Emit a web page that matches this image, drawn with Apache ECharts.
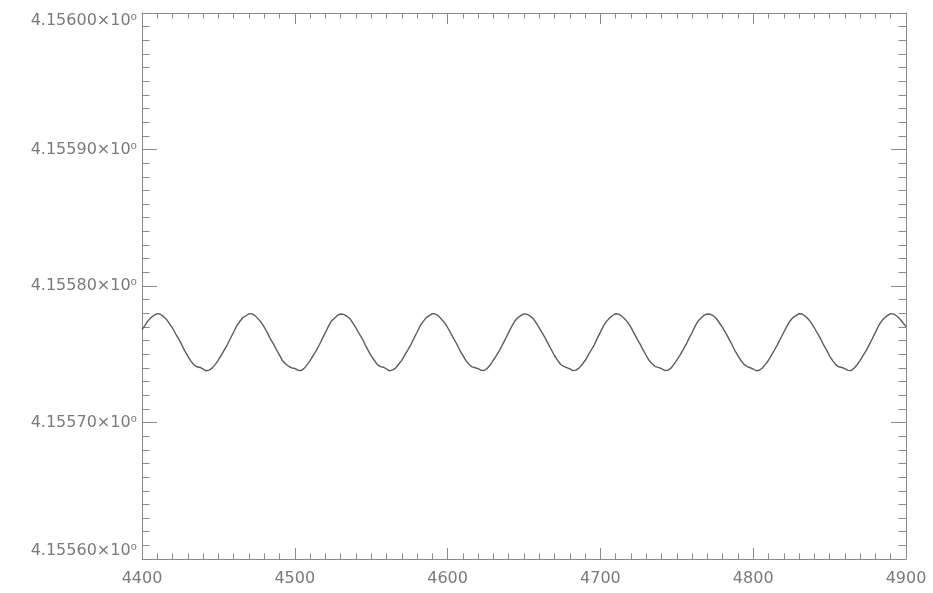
<!DOCTYPE html>
<html>
<head>
<meta charset="utf-8">
<style>
  html, body { margin: 0; padding: 0; background: #ffffff; }
  #chart { width: 933px; height: 593px; }
</style>
<script src="https://cdn.jsdelivr.net/npm/echarts@6/dist/echarts.min.js"></script>
</head>
<body>
<div id="chart"></div>
<script>
// Sampling of the signal: one value every 2 units from 4400 to 4900
const sampleStart = 4400;
const sampleStep = 2;

const signal = [
  // 4400 - 4458
  4.1557680, 4.1557712, 4.1557746, 4.1557770, 4.1557786, 4.1557798, 4.1557793, 4.1557777, 4.1557756, 4.1557725,
  4.1557692, 4.1557650, 4.1557612, 4.1557570, 4.1557525, 4.1557486, 4.1557450, 4.1557423, 4.1557408, 4.1557403,
  4.1557391, 4.1557379, 4.1557384, 4.1557400, 4.1557426, 4.1557459, 4.1557495, 4.1557534, 4.1557573, 4.1557619,
  // 4460 - 4518
  4.1557663, 4.1557709, 4.1557740, 4.1557769, 4.1557782, 4.1557797, 4.1557796, 4.1557783, 4.1557759, 4.1557734,
  4.1557698, 4.1557658, 4.1557613, 4.1557576, 4.1557533, 4.1557493, 4.1557452, 4.1557429, 4.1557412, 4.1557400,
  4.1557396, 4.1557383, 4.1557380, 4.1557395, 4.1557422, 4.1557453, 4.1557490, 4.1557527, 4.1557568, 4.1557614,
  // 4520 - 4578
  4.1557658, 4.1557704, 4.1557744, 4.1557764, 4.1557786, 4.1557795, 4.1557792, 4.1557779, 4.1557762, 4.1557728,
  4.1557694, 4.1557653, 4.1557617, 4.1557571, 4.1557528, 4.1557488, 4.1557456, 4.1557424, 4.1557409, 4.1557405,
  4.1557392, 4.1557378, 4.1557385, 4.1557399, 4.1557427, 4.1557455, 4.1557494, 4.1557532, 4.1557571, 4.1557617,
  // 4580 - 4638
  4.1557661, 4.1557707, 4.1557739, 4.1557768, 4.1557783, 4.1557798, 4.1557795, 4.1557781, 4.1557757, 4.1557731,
  4.1557696, 4.1557656, 4.1557614, 4.1557575, 4.1557529, 4.1557492, 4.1557453, 4.1557427, 4.1557407, 4.1557401,
  4.1557395, 4.1557382, 4.1557381, 4.1557397, 4.1557423, 4.1557458, 4.1557491, 4.1557529, 4.1557572, 4.1557615,
  // 4640 - 4698
  4.1557660, 4.1557705, 4.1557743, 4.1557767, 4.1557785, 4.1557796, 4.1557793, 4.1557780, 4.1557761, 4.1557729,
  4.1557693, 4.1557654, 4.1557616, 4.1557572, 4.1557531, 4.1557489, 4.1557455, 4.1557425, 4.1557411, 4.1557402,
  4.1557393, 4.1557380, 4.1557384, 4.1557398, 4.1557425, 4.1557454, 4.1557493, 4.1557531, 4.1557569, 4.1557618,
  // 4700 - 4758
  4.1557662, 4.1557708, 4.1557741, 4.1557765, 4.1557784, 4.1557797, 4.1557794, 4.1557778, 4.1557758, 4.1557732,
  4.1557697, 4.1557655, 4.1557613, 4.1557574, 4.1557530, 4.1557491, 4.1557452, 4.1557428, 4.1557409, 4.1557404,
  4.1557394, 4.1557381, 4.1557382, 4.1557396, 4.1557424, 4.1557457, 4.1557492, 4.1557530, 4.1557570, 4.1557616,
  // 4760 - 4818
  4.1557659, 4.1557706, 4.1557745, 4.1557766, 4.1557787, 4.1557795, 4.1557793, 4.1557782, 4.1557760, 4.1557727,
  4.1557695, 4.1557657, 4.1557615, 4.1557573, 4.1557527, 4.1557490, 4.1557454, 4.1557426, 4.1557410, 4.1557401,
  4.1557392, 4.1557379, 4.1557383, 4.1557399, 4.1557426, 4.1557456, 4.1557494, 4.1557533, 4.1557572, 4.1557617,
  // 4820 - 4878
  4.1557661, 4.1557704, 4.1557742, 4.1557769, 4.1557783, 4.1557797, 4.1557795, 4.1557779, 4.1557759, 4.1557730,
  4.1557694, 4.1557654, 4.1557616, 4.1557570, 4.1557532, 4.1557487, 4.1557453, 4.1557424, 4.1557408, 4.1557403,
  4.1557395, 4.1557382, 4.1557380, 4.1557397, 4.1557423, 4.1557455, 4.1557491, 4.1557528, 4.1557571, 4.1557615,
  // 4880 - 4900
  4.1557660, 4.1557707, 4.1557743, 4.1557767, 4.1557785, 4.1557798, 4.1557794, 4.1557780, 4.1557758, 4.1557731,
  4.1557702
];

// Axis ranges and tick labels
const xRange = [4400, 4900];
const xTickStep = 100;
const xTickLabels = ['4400', '4500', '4600', '4700', '4800', '4900'];
const yRange = [4.1556, 4.1560];
const yTickStep = 0.0001;
const yTickLabels = ['4.15560×10⁰', '4.15570×10⁰', '4.15580×10⁰', '4.15590×10⁰', '4.15600×10⁰'];

const points = signal.map((v, i) => [sampleStart + i * sampleStep, v]);

const frameColor = '#8a8a8a';
const textColor = '#7a7a7a';
const font = 'DejaVu Sans';

function xAxisDef(position, showLabels) {
  return {
    type: 'value',
    position: position,
    min: xRange[0],
    max: xRange[1],
    interval: xTickStep,
    axisLine: { show: true, onZero: false, lineStyle: { color: frameColor, width: 1 } },
    axisTick: { show: true, inside: true, length: 11, lineStyle: { color: frameColor, width: 1 } },
    minorTick: { show: true, splitNumber: 10, length: 5.5, lineStyle: { color: frameColor, width: 1 } },
    splitLine: { show: false },
    minorSplitLine: { show: false },
    axisLabel: {
      show: showLabels,
      color: textColor,
      fontFamily: font,
      fontSize: 16,
      margin: 12,
      formatter: (value, index) => xTickLabels[index]
    }
  };
}

function yAxisDef(position, showLabels) {
  return {
    type: 'value',
    position: position,
    min: yRange[0],
    max: yRange[1],
    interval: yTickStep,
    axisLine: { show: true, onZero: false, lineStyle: { color: frameColor, width: 1 } },
    axisTick: { show: true, inside: true, length: 15, lineStyle: { color: frameColor, width: 1 } },
    minorTick: { show: true, splitNumber: 10, length: 7.5, lineStyle: { color: frameColor, width: 1 } },
    splitLine: { show: false },
    minorSplitLine: { show: false },
    axisLabel: {
      show: showLabels,
      color: textColor,
      fontFamily: font,
      fontSize: 16,
      margin: 5,
      verticalAlignMinLabel: 'bottom',
      verticalAlignMaxLabel: 'top',
      formatter: (value, index) => yTickLabels[index]
    }
  };
}

const chart = echarts.init(document.getElementById('chart'), null, { renderer: 'canvas' });
chart.setOption({
  animation: false,
  backgroundColor: '#ffffff',
  grid: { left: 142, right: 27, top: 13, bottom: 34, containLabel: false, outerBoundsMode: 'none' },
  xAxis: [xAxisDef('bottom', true), xAxisDef('top', false)],
  yAxis: [yAxisDef('left', true), yAxisDef('right', false)],
  series: [{
    type: 'line',
    data: points,
    xAxisIndex: 0,
    yAxisIndex: 0,
    showSymbol: false,
    smooth: false,
    lineStyle: { color: '#5c5c5c', width: 1.4 }
  }]
});
</script>
</body>
</html>
